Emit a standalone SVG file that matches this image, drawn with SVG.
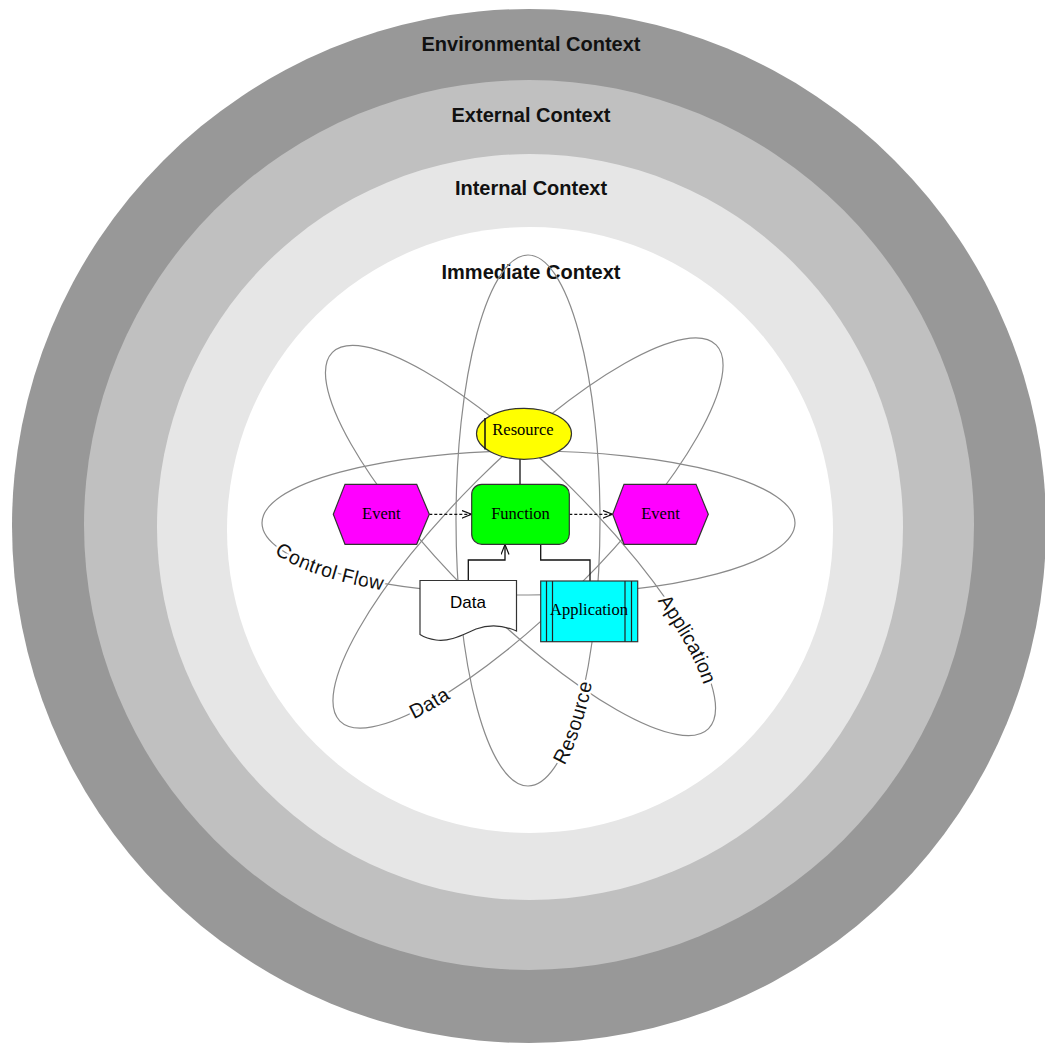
<svg xmlns="http://www.w3.org/2000/svg" width="1045" height="1043" viewBox="0 0 1045 1043">
<style>
.title{font-family:"Liberation Sans",Arial,sans-serif;font-weight:bold;font-size:20px;fill:#111;text-anchor:middle}
.orbit{fill:none;stroke:#8a8a8a;stroke-width:1.2}
.lbl{font-family:"Liberation Sans",Arial,sans-serif;font-size:20px;fill:#111;stroke:#fff;stroke-width:5;stroke-linejoin:round;paint-order:stroke;text-anchor:middle}
.node{stroke:#333;stroke-width:1.2}
.ntxt{font-family:"Liberation Serif","Times New Roman",serif;font-size:16.5px;fill:#000;text-anchor:middle}
.stxt{font-family:"Liberation Sans",Arial,sans-serif;font-size:17px;fill:#000;text-anchor:middle}
.conn{fill:none;stroke:#111;stroke-width:1.3}
.dash{stroke-dasharray:3 2}
</style>
<defs>
<marker id="openArrow" markerUnits="userSpaceOnUse" markerWidth="12" markerHeight="10" refX="10" refY="4" orient="auto">
<path d="M0,0 L10,4 L0,8" fill="none" stroke="#111" stroke-width="1.2"/>
</marker>
<path id="halfBot" d="M -266,0 A 266,72 0 0 0 266,0"/>
<path id="halfTop" d="M -266,0 A 266,72 0 0 1 266,0"/>
</defs>

<g id="context-rings">
<circle cx="529" cy="526" r="517" fill="#989898"/>
<circle cx="529" cy="525" r="445" fill="#c0c0c0"/>
<circle cx="530" cy="527" r="373" fill="#e6e6e6"/>
<circle cx="530" cy="530" r="303" fill="#ffffff"/>
<text class="title" x="531" y="51">Environmental Context</text>
<text class="title" x="531" y="122">External Context</text>
<text class="title" x="531" y="195">Internal Context</text>
<text class="title" x="531" y="279">Immediate Context</text>
</g>

<g id="orbits">
<ellipse class="orbit" cx="528.5" cy="523" rx="266.5" ry="72"/>
<ellipse class="orbit" cx="528" cy="520.5" rx="72" ry="265.5"/>
<ellipse class="orbit" cx="0" cy="0" rx="266" ry="73" transform="translate(520.5,540.5) rotate(45)"/>
<ellipse class="orbit" cx="0" cy="0" rx="266" ry="73" transform="translate(528,533) rotate(-45)"/>
</g>

<g id="orbit-labels">
<g transform="translate(528.5,523)"><text class="lbl" dy="7"><textPath href="#halfBot" startOffset="86">Control Flow</textPath></text></g>
<g transform="translate(528,533) rotate(-45)"><text class="lbl" dy="7"><textPath href="#halfBot" startOffset="96">Data</textPath></text></g>
<g transform="translate(528,520.5) rotate(-90)"><text class="lbl" dy="7"><textPath href="#halfBot" startOffset="83">Resource</textPath></text></g>
<g transform="translate(520.5,540.5) rotate(45)"><text class="lbl" dy="7"><textPath href="#halfTop" startOffset="478">Application</textPath></text></g>
</g>

<g id="connectors">
<line class="conn" x1="520" y1="459" x2="520" y2="484"/>
<line class="conn dash" x1="429.3" y1="514.3" x2="471.5" y2="514.3" marker-end="url(#openArrow)"/>
<line class="conn dash" x1="569.3" y1="514.3" x2="612.5" y2="514.3" marker-end="url(#openArrow)"/>
<polyline class="conn" points="468.3,580 468.3,560 505,560 505,544.5" marker-end="url(#openArrow)"/>
<polyline class="conn" points="540.7,544.3 540.7,560 590,560 590,581"/>
</g>

<g id="node-resource">
<ellipse class="node" cx="524" cy="433.8" rx="47.5" ry="25.5" fill="#ffff00"/>
<line x1="485" y1="418" x2="485" y2="449.5" stroke="#111" stroke-width="1.5"/>
<text class="ntxt" x="523" y="434.5">Resource</text>
</g>

<g id="node-function">
<rect class="node" x="471.7" y="484.3" width="97.6" height="60" rx="10" fill="#00ff00"/>
<text class="ntxt" x="520.5" y="519">Function</text>
</g>

<g id="node-event-left">
<polygon class="node" points="333.3,514.3 345,484.3 416.7,484.3 429.3,514.3 416.7,544.3 345,544.3" fill="#ff00ff"/>
<text class="ntxt" x="381.3" y="519">Event</text>
</g>

<g id="node-event-right">
<polygon class="node" points="612.7,514.3 624,484.3 696,484.3 708.3,514.3 696,544.3 624,544.3" fill="#ff00ff"/>
<text class="ntxt" x="660.5" y="519">Event</text>
</g>

<g id="node-data">
<path class="node" d="M420,580.5 L516.5,580.5 L516.5,631 C503,625 490,624 476,629 C462,635 450,642 436,640 C429,639 424,637 420,634.5 Z" fill="#ffffff"/>
<text class="stxt" x="468" y="608">Data</text>
</g>

<g id="node-application">
<rect class="node" x="540.7" y="581" width="97" height="60.7" fill="#00ffff"/>
<line x1="546.5" y1="581" x2="546.5" y2="641.7" stroke="#222" stroke-width="1.2"/>
<line x1="552.5" y1="581" x2="552.5" y2="641.7" stroke="#222" stroke-width="1.2"/>
<line x1="625" y1="581" x2="625" y2="641.7" stroke="#222" stroke-width="1.2"/>
<line x1="631.5" y1="581" x2="631.5" y2="641.7" stroke="#222" stroke-width="1.2"/>
<text class="ntxt" x="589" y="615">Application</text>
</g>
</svg>
